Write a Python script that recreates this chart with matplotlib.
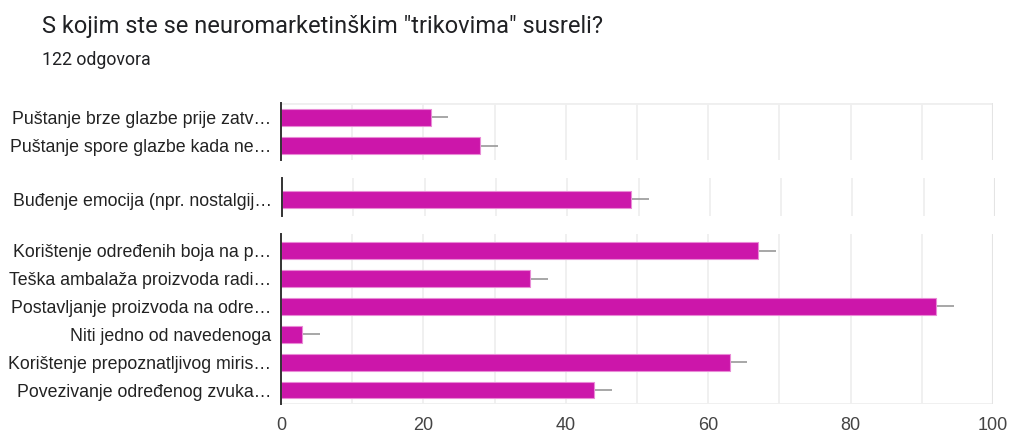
import numpy as np
import matplotlib
matplotlib.use("Agg")
import matplotlib.pyplot as plt

plt.rcParams['font.family'] = ['Liberation Sans', 'DejaVu Sans']

title = 'S kojim ste se neuromarketinškim "trikovima" susreli?'
subtitle = "122 odgovora"

# three visible strips of the screenshot
labels_top = ["Puštanje brze glazbe prije zatv…", "Puštanje spore glazbe kada ne…"]
values_top = [21, 28]
labels_mid = ["Buđenje emocija (npr. nostalgij…"]
values_mid = [49]
labels_bot = ["Korištenje određenih boja na p…", "Teška ambalaža proizvoda radi…",
              "Postavljanje proizvoda na odre…", "Niti jedno od navedenoga",
              "Korištenje prepoznatljivog miris…", "Povezivanje određenog zvuka…"]
values_bot = [67, 35, 92, 3, 63, 44]
interval = 2.5   # grey whisker past each bar end
xticks = [0, 20, 40, 60, 80, 100]

bar_color = "#cc16aa"
grid_color = "#efefef"
W, H = 1010, 433

fig = plt.figure(figsize=(W / 100, H / 100), dpi=100)

def px_axes(left, top, right, bottom):
    return fig.add_axes([left / W, 1 - bottom / H, (right - left) / W, (bottom - top) / H])

def draw(ax, labels, values, ylim, show_x=False, top_line=False, bottom_line=False):
    y = np.arange(len(labels))
    ax.barh(y, values, height=0.6, color=bar_color, edgecolor="#e98bd6", linewidth=0.8, zorder=3)
    ax.errorbar(values, y, xerr=[np.zeros(len(values)), np.full(len(values), interval)],
                fmt="none", ecolor="#a0a0a0", elinewidth=1.3, capsize=0, zorder=2)
    ax.set_xlim(0, 100)
    ax.set_ylim(*ylim)
    ax.set_yticks(y)
    ax.set_yticklabels(labels, fontsize=12.8, color="#222222")
    ax.tick_params(axis="y", length=0, pad=7)
    ax.set_xticks(np.arange(0, 101, 10), minor=False)
    ax.grid(axis="x", color=grid_color, linewidth=1.3, zorder=0)
    ax.set_axisbelow(True)
    if show_x:
        ax.set_xticks(xticks)
        ax.set_xticks(np.arange(10, 100, 20), minor=True)
        ax.grid(axis="x", which="minor", color=grid_color, linewidth=1.3, zorder=0)
        ax.tick_params(axis="x", which="both", length=0, pad=9, labelsize=13, labelcolor="#444444")
    else:
        ax.tick_params(axis="x", length=0, labelbottom=False)
    ax.axvline(100, color="#e4e4e4", linewidth=1.5, zorder=1)
    for s in ["top", "right", "bottom"]:
        ax.spines[s].set_visible(False)
    ax.spines["left"].set_color("#333333")
    ax.spines["left"].set_linewidth(1.4)
    ax.spines["left"].set_zorder(4)
    if top_line:
        ax.axhline(ylim[1], color=grid_color, linewidth=2, zorder=0)
    if bottom_line:
        ax.axhline(ylim[0], color=grid_color, linewidth=2, zorder=0)

ax1 = px_axes(281, 103, 993, 160)
draw(ax1, labels_top, values_top, (1.5, -0.5), top_line=True)

ax2 = px_axes(282, 178, 995, 216)
draw(ax2, labels_mid, values_mid, (0.6, -0.75))

ax3 = px_axes(281, 234, 993, 404)
draw(ax3, labels_bot, values_bot, (5.5, -0.6), show_x=True, bottom_line=True)

fig.text(42 / W, 1 - 27 / H, title, fontsize=17, family="Roboto", color="#202124", va="center")
fig.text(42 / W, 1 - 60 / H, subtitle, fontsize=12.8, family="Roboto", color="#202124", va="center")

fig.savefig("out.png", dpi=100)
